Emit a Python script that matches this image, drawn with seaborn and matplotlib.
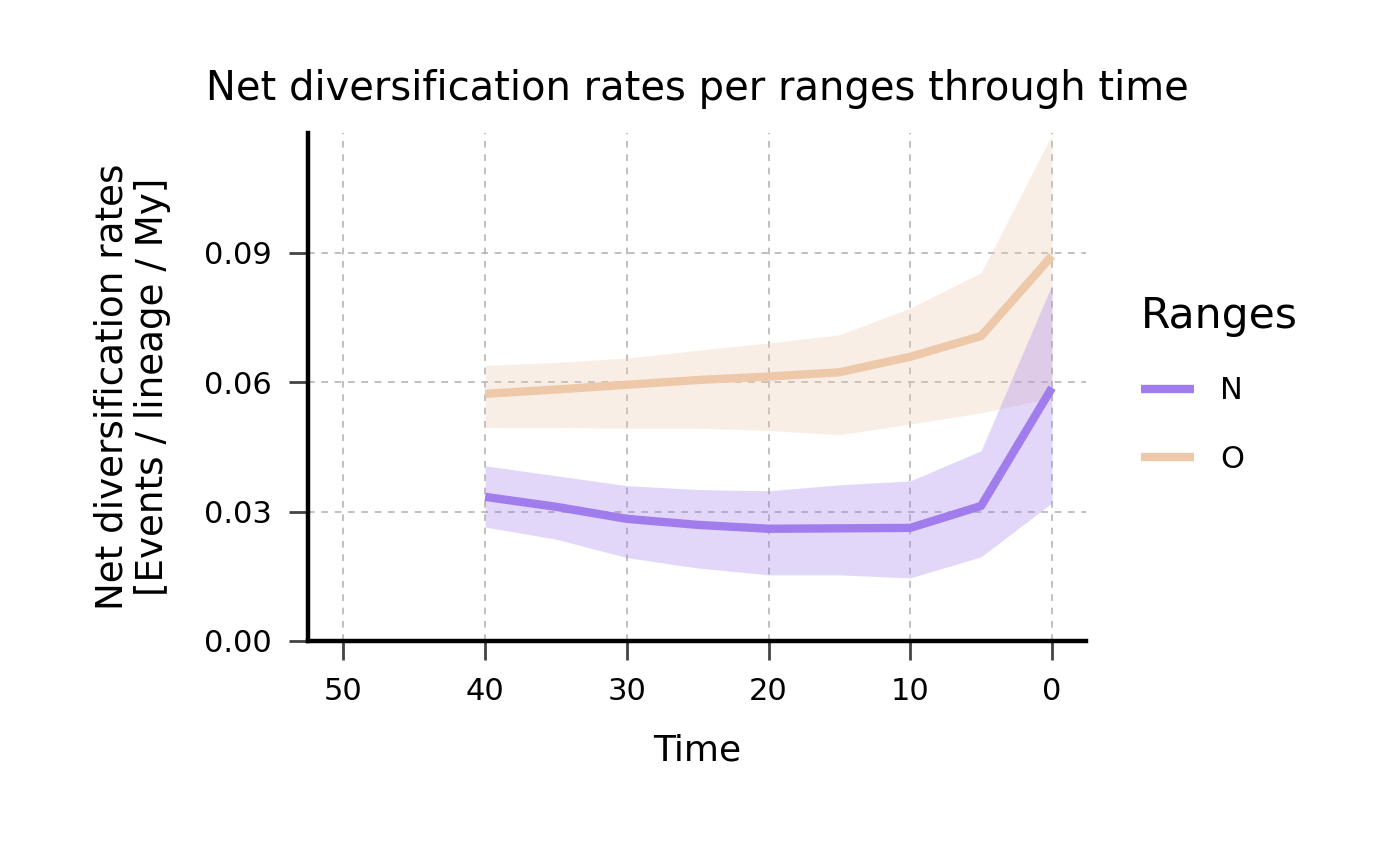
import numpy as np
import pandas as pd
import matplotlib
matplotlib.use("Agg")
import matplotlib.pyplot as plt
import seaborn as sns

# Data
time = [40, 35, 30, 25, 20, 15, 10, 5, 0]
n_mean = [0.0334, 0.0311, 0.0283, 0.0269, 0.0260, 0.0261, 0.0262, 0.0313, 0.0587]
n_low = [0.0264, 0.0236, 0.0193, 0.0169, 0.0153, 0.0153, 0.0146, 0.0195, 0.0320]
n_high = [0.0406, 0.0383, 0.0360, 0.0351, 0.0348, 0.0362, 0.0371, 0.0441, 0.0826]
o_mean = [0.0573, 0.0583, 0.0594, 0.0605, 0.0613, 0.0623, 0.0659, 0.0707, 0.0893]
o_low = [0.0495, 0.0495, 0.0493, 0.0493, 0.0488, 0.0478, 0.0503, 0.0529, 0.0564]
o_high = [0.0639, 0.0646, 0.0656, 0.0674, 0.0691, 0.0710, 0.0772, 0.0854, 0.1174]
ranges = ["N", "O"]
colors = {"N": "#A07CEC", "O": "#EDC9A9"}

sns.set_style("white")
plt.rcParams['font.family'] = ['DejaVu Sans']
plt.rcParams['text.color'] = 'black'
plt.rcParams['axes.labelcolor'] = 'black'
plt.rcParams['xtick.color'] = '#444444'
plt.rcParams['ytick.color'] = '#444444'
plt.rcParams['xtick.labelcolor'] = 'black'
plt.rcParams['ytick.labelcolor'] = 'black'

df = pd.DataFrame({
    "Time": time * 2,
    "rate": n_mean + o_mean,
    "Ranges": ["N"] * len(time) + ["O"] * len(time),
})

fig = plt.figure(figsize=(7, 4.33), dpi=200)
ax = fig.add_axes([0.22, 0.26, 0.5557, 0.5864])

ax.fill_between(time, o_low, o_high, color=colors["O"], alpha=0.3, linewidth=0)
ax.fill_between(time, n_low, n_high, color=colors["N"], alpha=0.3, linewidth=0)
sns.lineplot(data=df, x="Time", y="rate", hue="Ranges", hue_order=ranges,
             palette=colors, linewidth=3.0, ax=ax, solid_capstyle="butt")

ax.set_xlim(52.5, -2.4)
ax.set_ylim(0, 0.1178)
ax.set_xticks([50, 40, 30, 20, 10, 0])
ax.set_yticks([0.0, 0.03, 0.06, 0.09])
ax.set_yticklabels(["0.00", "0.03", "0.06", "0.09"])
ax.grid(True, linestyle=(0, (4, 4)), color="#b5b5b5", linewidth=0.6)
ax.set_axisbelow(True)

for s in ["top", "right"]:
    ax.spines[s].set_visible(False)
for s in ["left", "bottom"]:
    ax.spines[s].set_linewidth(1.6)
    ax.spines[s].set_color("black")

ax.tick_params(axis="both", length=7, width=1.0, color="#444444",
               labelsize=11, pad=6, direction="out", labelcolor="black")
ax.tick_params(axis="both", which="both", bottom=True, left=True)

ax.set_xlabel("Time", fontsize=13, labelpad=10, color="black")
ax.set_ylabel("Net diversification rates\n[Events / lineage / My]", fontsize=13.4,
              labelpad=12, linespacing=1.1, color="black")
ax.set_title("Net diversification rates per ranges through time", fontsize=14.4,
             pad=12, color="black")

leg = ax.legend(title="Ranges", loc="center left", bbox_to_anchor=(1.035, 0.505),
                frameon=False, fontsize=11, title_fontsize=15.3,
                handlelength=1.75, labelspacing=1.3, handletextpad=0.85)
leg._legend_box.align = "left"
for line in leg.get_lines():
    line.set_linewidth(3.0)
    line.set_solid_capstyle("butt")
for t in leg.get_texts():
    t.set_color("black")
leg.get_title().set_color("black")

fig.savefig("out.png", dpi=200)
